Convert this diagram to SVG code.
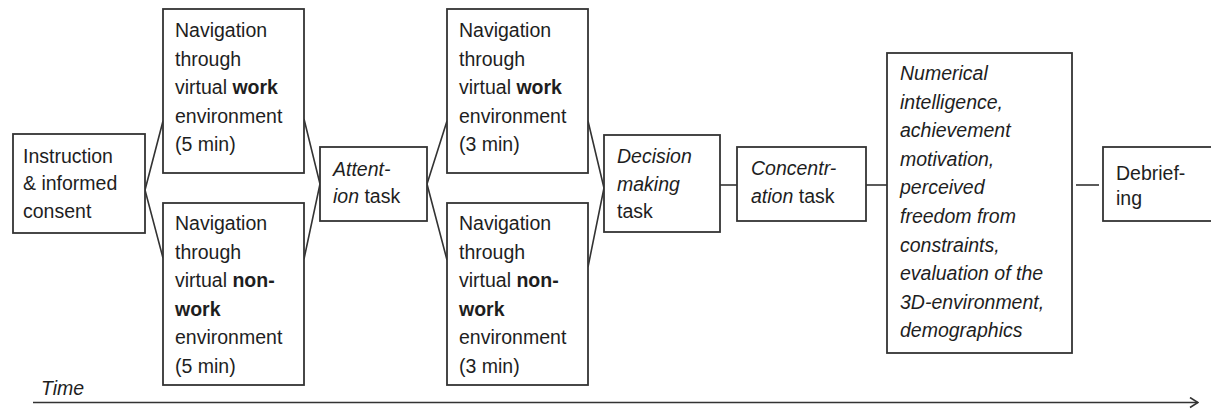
<svg xmlns="http://www.w3.org/2000/svg" width="1211" height="409" viewBox="0 0 1211 409">
  <defs>
    <style>
      .box { fill: #ffffff; stroke: #333333; stroke-width: 1.8; }
      .conn { fill: none; stroke: #333333; stroke-width: 1.6; }
      .t { font-family: "Liberation Sans", Arial, sans-serif; font-size: 19.5px; fill: #1e1e1e; }
      .i { font-style: italic; }
      .b { font-weight: bold; }
    </style>
    <marker id="arrow" viewBox="0 0 10 12" refX="9" refY="6" markerWidth="10" markerHeight="12" markerUnits="userSpaceOnUse" orient="auto">
      <path d="M1,1 L9,6 L1,11" fill="none" stroke="#333333" stroke-width="1.6"/>
    </marker>
  </defs>
  <rect width="1211" height="409" fill="#ffffff"/>

  <g id="connectors">
    <polyline class="conn" points="163,121 145,190 163,258"/>
    <polyline class="conn" points="304,119 320,184 304,259"/>
    <polyline class="conn" points="447,121 427,184 447,260"/>
    <polyline class="conn" points="588,121 604,188 588,267"/>
    <line class="conn" x1="720" y1="185" x2="737" y2="185"/>
    <line class="conn" x1="866" y1="185" x2="887" y2="185"/>
    <line class="conn" x1="1076" y1="185" x2="1099" y2="185"/>
  </g>

  <g id="instruction">
    <rect class="box" x="13" y="134" width="132" height="99"/>
    <text class="t" x="23" y="163">Instruction</text>
    <text class="t" x="23" y="190">&amp; informed</text>
    <text class="t" x="23" y="218">consent</text>
  </g>

  <g id="nav-work-5">
    <rect class="box" x="163" y="9" width="141" height="164"/>
    <text class="t" x="175" y="37">Navigation</text>
    <text class="t" x="175" y="65.5">through</text>
    <text class="t" x="175" y="94">virtual <tspan class="b">work</tspan></text>
    <text class="t" x="175" y="122.5">environment</text>
    <text class="t" x="175" y="151">(5 min)</text>
  </g>

  <g id="nav-nonwork-5">
    <rect class="box" x="163" y="203" width="141" height="182"/>
    <text class="t" x="175" y="230">Navigation</text>
    <text class="t" x="175" y="258.5">through</text>
    <text class="t" x="175" y="287">virtual <tspan class="b">non-</tspan></text>
    <text class="t b" x="175" y="315.5">work</text>
    <text class="t" x="175" y="344">environment</text>
    <text class="t" x="175" y="372.5">(5 min)</text>
  </g>

  <g id="attention">
    <rect class="box" x="320" y="147" width="107" height="74"/>
    <text class="t i" x="333" y="176">Attent-</text>
    <text class="t" x="333" y="203"><tspan class="i">ion</tspan> task</text>
  </g>

  <g id="nav-work-3">
    <rect class="box" x="447" y="9" width="141" height="164"/>
    <text class="t" x="459" y="37">Navigation</text>
    <text class="t" x="459" y="65.5">through</text>
    <text class="t" x="459" y="94">virtual <tspan class="b">work</tspan></text>
    <text class="t" x="459" y="122.5">environment</text>
    <text class="t" x="459" y="151">(3 min)</text>
  </g>

  <g id="nav-nonwork-3">
    <rect class="box" x="447" y="203" width="141" height="182"/>
    <text class="t" x="459" y="230">Navigation</text>
    <text class="t" x="459" y="258.5">through</text>
    <text class="t" x="459" y="287">virtual <tspan class="b">non-</tspan></text>
    <text class="t b" x="459" y="315.5">work</text>
    <text class="t" x="459" y="344">environment</text>
    <text class="t" x="459" y="372.5">(3 min)</text>
  </g>

  <g id="decision">
    <rect class="box" x="604" y="135" width="116" height="97"/>
    <text class="t i" x="617" y="163">Decision</text>
    <text class="t i" x="617" y="191">making</text>
    <text class="t" x="617" y="218">task</text>
  </g>

  <g id="concentration">
    <rect class="box" x="737" y="147" width="129" height="74"/>
    <text class="t i" x="751" y="175">Concentr-</text>
    <text class="t" x="751" y="203"><tspan class="i">ation</tspan> task</text>
  </g>

  <g id="questionnaires">
    <rect class="box" x="887" y="53" width="185" height="300"/>
    <text class="t i" x="900" y="80">Numerical</text>
    <text class="t i" x="900" y="108.5">intelligence,</text>
    <text class="t i" x="900" y="137">achievement</text>
    <text class="t i" x="900" y="165.5">motivation,</text>
    <text class="t i" x="900" y="194">perceived</text>
    <text class="t i" x="900" y="223">freedom from</text>
    <text class="t i" x="900" y="251.5">constraints,</text>
    <text class="t i" x="900" y="280">evaluation of the</text>
    <text class="t i" x="900" y="308.5">3D-environment,</text>
    <text class="t i" x="900" y="337">demographics</text>
  </g>

  <g id="debriefing">
    <rect class="box" x="1103" y="147" width="115" height="74"/>
    <text class="t" x="1116" y="180">Debrief-</text>
    <text class="t" x="1116" y="205">ing</text>
  </g>

  <g id="time">
    <text class="t i" x="41" y="395">Time</text>
    <line class="conn" x1="33" y1="402.5" x2="1198" y2="402.5" marker-end="url(#arrow)"/>
  </g>
</svg>
